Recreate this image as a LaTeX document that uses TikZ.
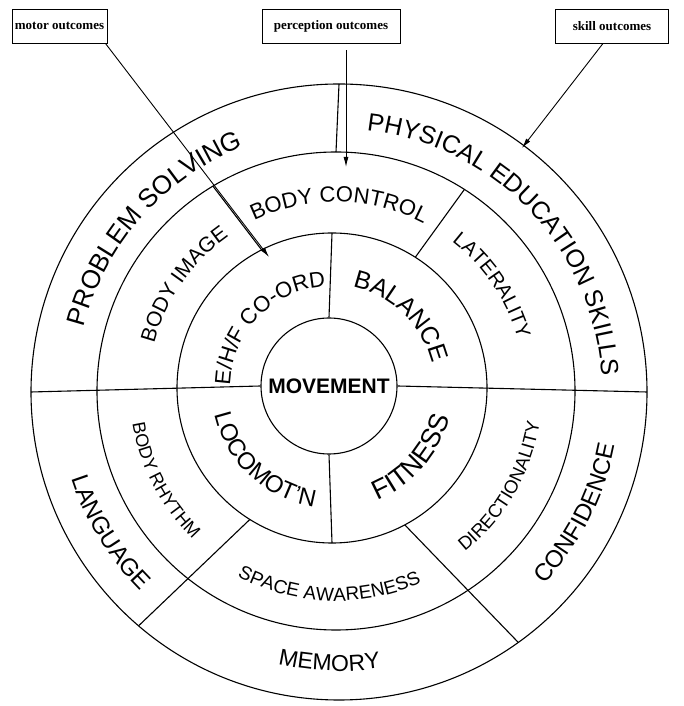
\documentclass[tikz,border=0pt]{standalone}
\usepackage{fontspec}
\setmainfont{Liberation Sans}
\newfontfamily\boxfont{Liberation Serif}
\usetikzlibrary{arrows.meta,decorations.text}

\begin{document}
\begin{tikzpicture}[x=1pt,y=1pt,
    ring/.style={line width=1.1pt},
    ringtext/.style={decorate,decoration={text along path,text align=center,text={#1}}},
    outcome/.style={draw,line width=0.9pt,font=\boxfont\bfseries\fontsize{13}{13}\selectfont,minimum height=34,inner xsep=2},
    outarrow/.style={line width=0.9pt,-{Latex[length=10pt,width=5pt]}}]
    \useasboundingbox (0,0) rectangle (683,706);
    \coordinate (c3) at (332,318);
    \coordinate (c2) at (336,315);
    \coordinate (co) at (339,314);
    \node[circle,draw,ring,minimum size=136,inner sep=0,font=\bfseries\fontsize{21}{21}\selectfont] (move) at (329,320) {MOVEMENT};
    \draw[ring] (c3) circle [radius=155];
    \draw[ring] (c2) circle [radius=239];
    \draw[ring] (co) circle [radius=308];

    \draw[ring] ([shift={(180:308)}]co) -- (move.west);
    \draw[ring] (move.east) -- ([shift={(0:308)}]co);
    \draw[ring] (move.north) -- ([shift={(90:155)}]c3);
    \draw[ring] (move.south) -- ([shift={(270:155)}]c3);
    \draw[ring] ([shift={(90:239)}]c2) -- ([shift={(90:308)}]co);
    \draw[ring] ([shift={(121:239)}]c2) -- ([shift={(117:155)}]c3);
    \draw[ring] ([shift={(57.5:239)}]c2) -- ([shift={(57.5:155)}]c3);
    \draw[ring] ([shift={(229.4:308)}]co) -- ([shift={(238:155)}]c3);
    \draw[ring] ([shift={(305.6:308)}]co) -- ([shift={(298:155)}]c3);

    \path[ringtext={|\fontsize{26}{26}\selectfont|PROBLEM SOLVING}] ([shift={(208.5:263)}]co) arc [start angle=208.5,end angle=68.5,radius=263];
    \path[ringtext={|\fontsize{25}{25}\selectfont|PHYSICAL EDUCATION SKILLS}] ([shift={(113.7:263)}]co) arc [start angle=113.7,end angle=-26.3,radius=263];
    \path[ringtext={|\fontsize{24}{24}\selectfont|LANGUAGE}] ([shift={(141.5:281)}]co) arc [start angle=141.5,end angle=281.5,radius=281];
    \path[ringtext={|\fontsize{23}{23}\selectfont|MEMORY}] ([shift={(198:279)}]co) arc [start angle=198,end angle=338,radius=279];
    \path[ringtext={|\fontsize{24}{24}\selectfont|CONFIDENCE}] ([shift={(263:281)}]co) arc [start angle=263,end angle=403,radius=281];

    \path[ringtext={|\fontsize{21}{21}\selectfont|BODY IMAGE}] ([shift={(215:188)}]c2) arc [start angle=215,end angle=75,radius=188];
    \path[ringtext={|\fontsize{22}{22}\selectfont|BODY CONTROL}] ([shift={(159:189)}]c2) arc [start angle=159,end angle=19,radius=189];
    \path[ringtext={|\fontsize{20}{20}\selectfont|LATERALITY}] ([shift={(104:189)}]c2) arc [start angle=104,end angle=-36,radius=189];
    \path[ringtext={|\fontsize{18}{18}\selectfont|BODY RHYTHM}] ([shift={(137.5:206)}]c2) arc [start angle=137.5,end angle=277.5,radius=206];
    \path[ringtext={|\fontsize{19}{19}\selectfont|SPACE AWARENESS}] ([shift={(198:210)}]c2) arc [start angle=198,end angle=338,radius=210];
    \path[ringtext={|\fontsize{18.5}{18.5}\selectfont|DIRECTIONALITY}] ([shift={(260:206)}]c2) arc [start angle=260,end angle=400,radius=206];

    \path[ringtext={|\fontsize{22}{22}\selectfont|E/H/F CO-ORD}] ([shift={(206:102)}]c3) arc [start angle=206,end angle=66,radius=102];
    \path[ringtext={|\fontsize{25}{25}\selectfont|BALANCE}] ([shift={(116:103)}]c3) arc [start angle=116,end angle=-24,radius=103];
    \path[ringtext={|\fontsize{24}{24}\selectfont|LOCOMOT'N}] ([shift={(157:120)}]c3) arc [start angle=157,end angle=297,radius=120];
    \path[ringtext={|\fontsize{27}{27}\selectfont|FITNESS}] ([shift={(249:121)}]c3) arc [start angle=249,end angle=389,radius=121];

    \node[outcome,minimum width=95] (motor) at (59.5,680) {motor outcomes};
    \node[outcome,minimum width=138] (perception) at (331,680) {perception outcomes};
    \node[outcome,minimum width=113] (skill) at (612,680) {skill outcomes};
    \coordinate (motortip) at (269,449);
    \coordinate (perceptiontip) at (346,539);
    \coordinate (skilltip) at (522,558);
    \draw[outarrow] ([xshift=-2]motor.south east) -- (motortip);
    \draw[outarrow] ([yshift=-7]perceptiontip |- perception.south) -- (perceptiontip);
    \draw[outarrow] ([xshift=-9]skill.south) -- (skilltip);
\end{tikzpicture}
\end{document}
